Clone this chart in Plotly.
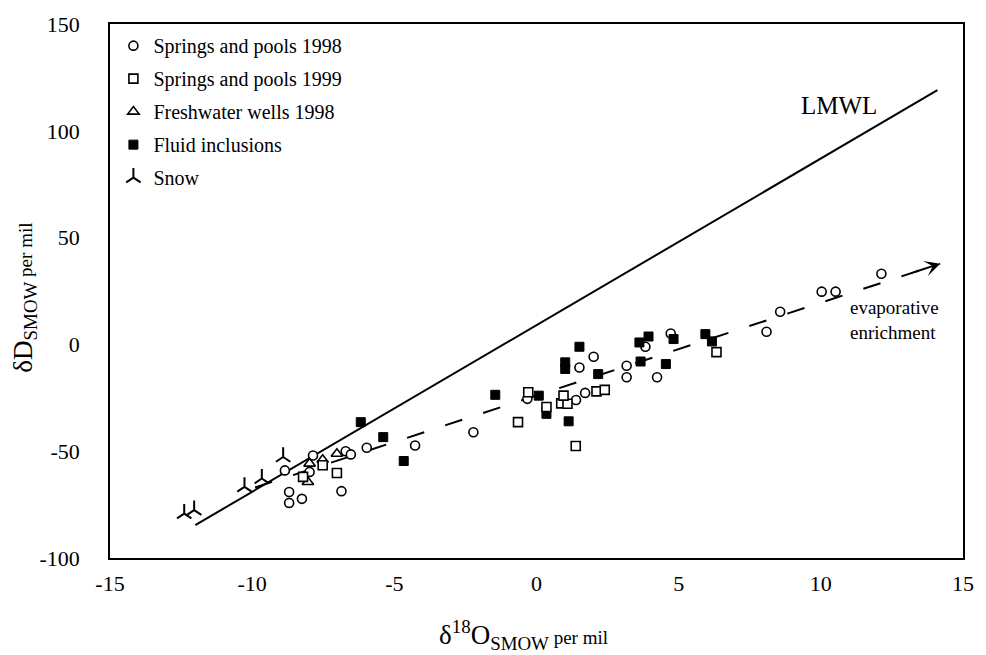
import plotly.graph_objects as go

# Springs and pools, 1998 sampling (δ18O, δD in per mil)
springs98_x = [-8.85, -7.86, -8.70, -8.70, -8.25, -7.98, -6.71, -6.53, -5.97, -6.86,
               -4.27, -2.22, -0.32, 1.39, 1.71, 1.51, 2.01, 3.17, 3.17, 3.83,
               4.24, 4.72, 8.09, 8.57, 10.03, 10.52, 12.13]
springs98_y = [-59.0, -52.0, -69.1, -74.2, -72.3, -59.7, -50.0, -51.5, -48.4, -68.7,
               -47.3, -41.1, -25.5, -26.0, -22.7, -10.8, -5.8, -10.0, -15.4, -1.1,
               -15.4, 5.1, 5.9, 15.3, 24.7, 24.7, 33.1]

# Springs and pools, 1999 sampling
springs99_x = [-8.21, -7.52, -7.02, -0.65, -0.29, 0.35, 0.87, 1.09, 0.95, 1.38,
               2.11, 2.40, 6.33]
springs99_y = [-62.0, -56.6, -60.2, -36.4, -22.4, -29.3, -27.6, -27.8, -24.0, -47.6,
               -22.0, -21.3, -3.6]

# Freshwater wells, 1998
wells_x = [-7.98, -8.04, -7.52, -7.02]
wells_y = [-55.8, -64.4, -54.0, -51.2]

# Fluid inclusions
fluid_x = [-6.18, -5.39, -4.67, -1.45, 0.08, 0.35, 1.13, 1.01, 1.01, 1.51,
           2.17, 3.66, 3.62, 3.94, 4.55, 4.82, 5.94, 6.17]
fluid_y = [-36.4, -43.4, -54.6, -23.6, -24.0, -32.5, -36.0, -8.4, -11.5, -1.1,
           -13.9, -8.0, 0.9, 3.7, -9.2, 2.5, 4.8, 1.4]

# Snow
snow_x = [-12.39, -12.04, -10.27, -9.66, -8.91]
snow_y = [-79.2, -77.6, -66.7, -62.8, -52.7]

# Local meteoric water line end points
lmwl_x = [-12.0, 14.1]
lmwl_y = [-84.6, 119.0]

# Evaporative enrichment trend (start, arrow tip)
evap_x = [-9.9, 14.2]
evap_y = [-67.0, 37.8]

x_ticks = [-15, -10, -5, 0, 5, 10, 15]
y_ticks = [-100, -50, 0, 50, 100, 150]

SERIF = "Liberation Serif, Times New Roman, serif"
INK = "black"

fig = go.Figure()

fig.add_trace(go.Scatter(
    x=lmwl_x, y=lmwl_y, mode="lines", line=dict(color=INK, width=2),
    showlegend=False, hoverinfo="skip"))

fig.add_trace(go.Scatter(
    x=evap_x, y=evap_y, mode="lines",
    line=dict(color=INK, width=2, dash="18px,22px"),
    showlegend=False, hoverinfo="skip"))

open_marker = dict(color="white", line=dict(color=INK, width=1.6))

fig.add_trace(go.Scatter(
    x=springs98_x, y=springs98_y, mode="markers", name="Springs and pools 1998",
    legendrank=1, legendgroup="s98",
    marker=dict(symbol="circle", size=9, **open_marker)))

fig.add_trace(go.Scatter(
    x=wells_x, y=wells_y, mode="markers", name="Freshwater wells 1998",
    legendrank=3, legendgroup="wells",
    marker=dict(symbol="triangle-up", size=10, **open_marker)))

fig.add_trace(go.Scatter(
    x=fluid_x, y=fluid_y, mode="markers", name="Fluid inclusions",
    legendrank=4, legendgroup="fluid",
    marker=dict(symbol="square", size=9, color=INK, line=dict(color=INK, width=1))))

fig.add_trace(go.Scatter(
    x=springs99_x, y=springs99_y, mode="markers", name="Springs and pools 1999",
    legendrank=2, legendgroup="s99",
    marker=dict(symbol="square", size=9, **open_marker)))

fig.add_trace(go.Scatter(
    x=snow_x, y=snow_y, mode="markers", name="Snow",
    legendrank=5, legendgroup="snow",
    marker=dict(symbol="y-up", size=12, color=INK, line=dict(color=INK, width=2))))

# arrow head at the end of the enrichment trend
fig.add_annotation(
    x=evap_x[1], y=evap_y[1], ax=evap_x[1] - 0.9, ay=evap_y[1] - 3.9,
    xref="x", yref="y", axref="x", ayref="y", text="",
    showarrow=True, arrowhead=3, arrowsize=1.3, arrowwidth=2, arrowcolor=INK,
    standoff=0)

fig.add_annotation(
    x=10.65, y=112, xref="x", yref="y", text="LMWL", showarrow=False,
    font=dict(family=SERIF, size=25, color=INK))

fig.add_annotation(
    x=12.6, y=11.5, xref="x", yref="y", text="evaporative<br>enrichment",
    showarrow=False, align="left",
    font=dict(family=SERIF, size=19, color=INK))

# axis titles
fig.add_annotation(
    x=0.485, y=-0.145, xref="paper", yref="paper", xanchor="center", yanchor="middle",
    text="δ<sup>18</sup>O<sub>SMOW</sub><span style='font-size:19px'> per mil</span>",
    showarrow=False, font=dict(family=SERIF, size=27, color=INK))

fig.add_annotation(
    x=-0.1, y=0.487, xref="paper", yref="paper", xanchor="center", yanchor="middle",
    textangle=-90,
    text="δD<sub>SMOW</sub><span style='font-size:19px'> per mil</span>",
    showarrow=False, font=dict(family=SERIF, size=27, color=INK))

fig.update_layout(
    width=986, height=655,
    margin=dict(l=110, r=14, t=22, b=97),
    paper_bgcolor="white", plot_bgcolor="white",
    font=dict(family=SERIF, size=20, color=INK),
    legend=dict(
        x=0.004, y=0.996, xanchor="left", yanchor="top",
        bgcolor="rgba(0,0,0,0)", borderwidth=0,
        font=dict(family=SERIF, size=20, color=INK),
        traceorder="grouped", tracegroupgap=4, itemwidth=30),
    showlegend=True,
)

fig.update_xaxes(
    range=[-15, 15], tickvals=x_ticks, ticktext=[str(v) for v in x_ticks],
    showgrid=False, zeroline=False,
    showline=True, mirror=True, linecolor=INK, linewidth=1.5,
    ticks="outside", ticklen=5, tickcolor="rgba(0,0,0,0)",
    tickfont=dict(family=SERIF, size=22, color=INK))

fig.update_yaxes(
    range=[-100, 150], tickvals=y_ticks, ticktext=[str(v) for v in y_ticks],
    showgrid=False, zeroline=False,
    showline=True, mirror=True, linecolor=INK, linewidth=1.5,
    ticks="outside", ticklen=24, tickcolor="rgba(0,0,0,0)",
    tickfont=dict(family=SERIF, size=22, color=INK))

fig.write_html("out.html")
